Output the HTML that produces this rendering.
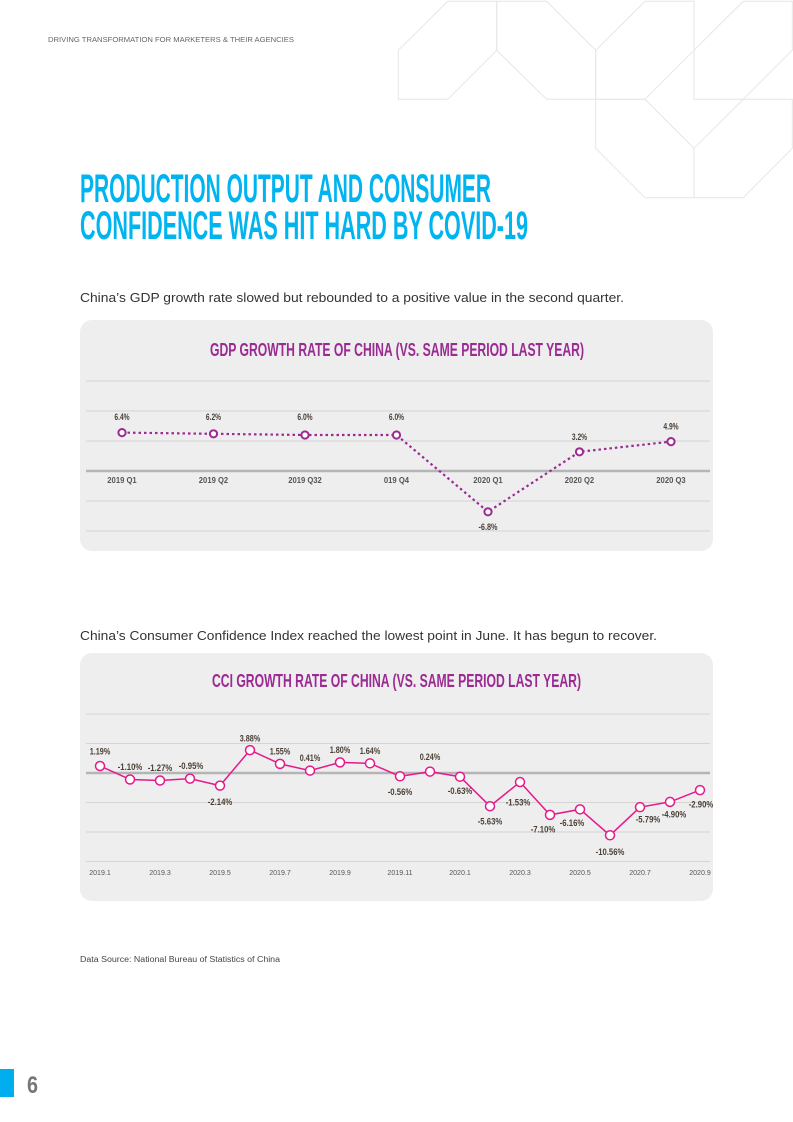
<!DOCTYPE html>
<html><head><meta charset="utf-8"><style>
html,body{margin:0;padding:0;background:#fff;}
svg{display:block;}
.cond{font-family:"Liberation Sans Narrow","Liberation Sans",sans-serif;font-weight:bold;}
.reg{font-family:"Liberation Sans",sans-serif;}
</style></head><body>
<svg id="page" width="793" height="1122" viewBox="0 0 793 1122" xmlns="http://www.w3.org/2000/svg">
<g fill="none" stroke="#e6e6e6" stroke-width="1">
<polygon points="447.7,1.3 496.7,1.3 496.7,50.3 447.7,99.3 398.3,99.3 398.3,50.3"/>
<polygon points="496.7,1.3 546.7,1.3 595.7,50.3 595.7,99.3 546.7,99.3 496.7,50.3"/>
<polygon points="645,1.3 694,1.3 694,50.3 645,99.3 595.7,99.3 595.7,50.3"/>
<polygon points="743.3,1.3 792.3,1.3 792.3,50.3 743.3,99.3 694,99.3 694,50.3"/>
<polygon points="595.7,99.3 645,99.3 694,148.3 694,197.7 645,197.7 595.7,148.3"/>
<polygon points="694,148.3 743.3,99.3 792.3,99.3 792.3,148.3 743.3,197.7 694,197.7"/>
</g>
<text class="reg" x="48" y="42" font-size="7" fill="#666" textLength="246" lengthAdjust="spacingAndGlyphs">DRIVING TRANSFORMATION FOR MARKETERS &amp; THEIR AGENCIES</text>
<text class="cond" x="80" y="202" font-size="40" fill="#00b4f0" textLength="411" lengthAdjust="spacingAndGlyphs">PRODUCTION OUTPUT AND CONSUMER</text>
<text class="cond" x="80" y="239" font-size="40" fill="#00b4f0" textLength="448" lengthAdjust="spacingAndGlyphs">CONFIDENCE WAS HIT HARD BY COVID-19</text>
<text class="reg" x="80" y="302" font-size="13" fill="#333" textLength="544" lengthAdjust="spacingAndGlyphs">China’s GDP growth rate slowed but rebounded to a positive value in the second quarter.</text>
<rect x="80" y="320" width="633" height="231" rx="12" fill="#eeeeee"/>
<text class="cond" x="210" y="356" font-size="18" fill="#9b2a93" textLength="374" lengthAdjust="spacingAndGlyphs">GDP GROWTH RATE OF CHINA (VS. SAME PERIOD LAST YEAR)</text>
<g id="gdp"></g>
<text class="reg" x="80" y="640" font-size="13" fill="#333" textLength="577" lengthAdjust="spacingAndGlyphs">China’s Consumer Confidence Index reached the lowest point in June. It has begun to recover.</text>
<rect x="80" y="653" width="633" height="248" rx="12" fill="#eeeeee"/>
<text class="cond" x="212" y="687" font-size="18" fill="#9b2a93" textLength="369" lengthAdjust="spacingAndGlyphs">CCI GROWTH RATE OF CHINA (VS. SAME PERIOD LAST YEAR)</text>
<g id="cci"></g>
<text class="reg" x="80" y="962" font-size="8" fill="#444" textLength="200" lengthAdjust="spacingAndGlyphs">Data Source: National Bureau of Statistics of China</text>
<rect x="0" y="1069" width="14" height="28" fill="#00aeef"/>
<text class="cond" x="27" y="1093" font-size="24" fill="#777" textLength="11" lengthAdjust="spacingAndGlyphs">6</text>
</svg>
<script>
var NS='http://www.w3.org/2000/svg';
var gdpCategories=['2019 Q1','2019 Q2','2019 Q32','019 Q4','2020 Q1','2020 Q2','2020 Q3'];
var gdpValues=[6.4,6.2,6.0,6.0,-6.8,3.2,4.9];
var gdpLabels=['6.4%','6.2%','6.0%','6.0%','-6.8%','3.2%','4.9%'];
var gdpGridValues=[15,10,5,0,-5,-10];
var cciCategories=['2019.1','2019.2','2019.3','2019.4','2019.5','2019.6','2019.7','2019.8','2019.9','2019.10','2019.11','2019.12','2020.1','2020.2','2020.3','2020.4','2020.5','2020.6','2020.7','2020.8','2020.9'];
var cciValues=[1.19,-1.10,-1.27,-0.95,-2.14,3.88,1.55,0.41,1.80,1.64,-0.56,0.24,-0.63,-5.63,-1.53,-7.10,-6.16,-10.56,-5.79,-4.90,-2.90];
var cciLabels=['1.19%','-1.10%','-1.27%','-0.95%','-2.14%','3.88%','1.55%','0.41%','1.80%','1.64%','-0.56%','0.24%','-0.63%','-5.63%','-1.53%','-7.10%','-6.16%','-10.56%','-5.79%','-4.90%','-2.90%'];
var cciTickLabels=['2019.1','2019.3','2019.5','2019.7','2019.9','2019.11','2020.1','2020.3','2020.5','2020.7','2020.9'];
var cciGridValues=[10,5,0,-5,-10,-15];

function mk(tag,attrs,parent){var e=document.createElementNS(NS,tag);for(var k in attrs)e.setAttribute(k,attrs[k]);parent.appendChild(e);return e;}

// GDP
(function(){
var g=document.getElementById('gdp');
var x=function(i){return 122+i*(671-122)/(gdpCategories.length-1);};
var y=function(v){return 471-v*6;};
gdpGridValues.forEach(function(v){
 var l=mk('line',{x1:86,x2:710,y1:y(v),y2:y(v),stroke:v===0?'#b5b5b5':'#d4d4d4','stroke-width':v===0?2.5:1},g);
 
 
});
gdpCategories.forEach(function(c,i){
 var t=mk('text',{x:x(i),y:483,'text-anchor':'middle','font-size':'8','fill':'#555','class':'reg','font-weight':'bold','textLength':c.length*4.2,'lengthAdjust':'spacingAndGlyphs'},g);
 t.textContent=c;
 
 
});
var pts=gdpValues.map(function(v,i){return x(i)+','+y(v);}).join(' ');
var pl=mk('polyline',{points:pts,fill:'none',stroke:'#9b2a93','stroke-width':2.2,'stroke-dasharray':'2.5,3'},g);


gdpValues.forEach(function(v,i){
 var c=mk('circle',{cx:x(i),cy:y(v),r:3.6,fill:'#fff',stroke:'#9b2a93','stroke-width':2},g);
 
 
 var ly=v<0?y(v)+18:y(v)-12;
 if(i<4) ly=420;
 var t=mk('text',{x:x(i),y:ly,'text-anchor':'middle','font-size':'9.5','fill':'#4a3f35','class':'cond','textLength':gdpLabels[i].length*3.8,'lengthAdjust':'spacingAndGlyphs'},g);
 t.textContent=gdpLabels[i];
 
 
});
})();

// CCI
(function(){
var g=document.getElementById('cci');
var x=function(i){return 100+i*30;};
var y=function(v){return 773-v*5.9;};
cciGridValues.forEach(function(v){
 var l=mk('line',{x1:86,x2:710,y1:y(v),y2:y(v),stroke:v===0?'#b5b5b5':'#d4d4d4','stroke-width':v===0?2.5:1},g);
 
 
});
cciTickLabels.forEach(function(c,i){
 var t=mk('text',{x:x(cciCategories.indexOf(c)),y:875,'text-anchor':'middle','font-size':'7.5','fill':'#555','class':'reg','textLength':c.length*3.6,'lengthAdjust':'spacingAndGlyphs'},g);
 t.textContent=c;
 
 
});
var pts=cciValues.map(function(v,i){return x(i)+','+y(v);}).join(' ');
var pl=mk('polyline',{points:pts,fill:'none',stroke:'#e6198c','stroke-width':1.5},g);


// label offsets (layout only)
var offY=[-15,-13,-13,-13,16,-12,-13,-13,-13,-13,15,-15,14,15,20,14,13,16,12,12,14];
var offX=[0,0,0,1,0,0,0,0,0,0,0,0,0,0,-2,-7,-8,0,8,4,1];
cciValues.forEach(function(v,i){
 var c=mk('circle',{cx:x(i),cy:y(v),r:4.5,fill:'#fff',stroke:'#e6198c','stroke-width':1.5},g);
 
 
 var t=mk('text',{x:x(i)+offX[i],y:y(v)+offY[i]+3.5,'text-anchor':'middle','font-size':'9.5','fill':'#4a3f35','class':'cond','textLength':cciLabels[i].length*4.1,'lengthAdjust':'spacingAndGlyphs'},g);
 t.textContent=cciLabels[i];
 
 
});
})();
</script>
</body></html>
